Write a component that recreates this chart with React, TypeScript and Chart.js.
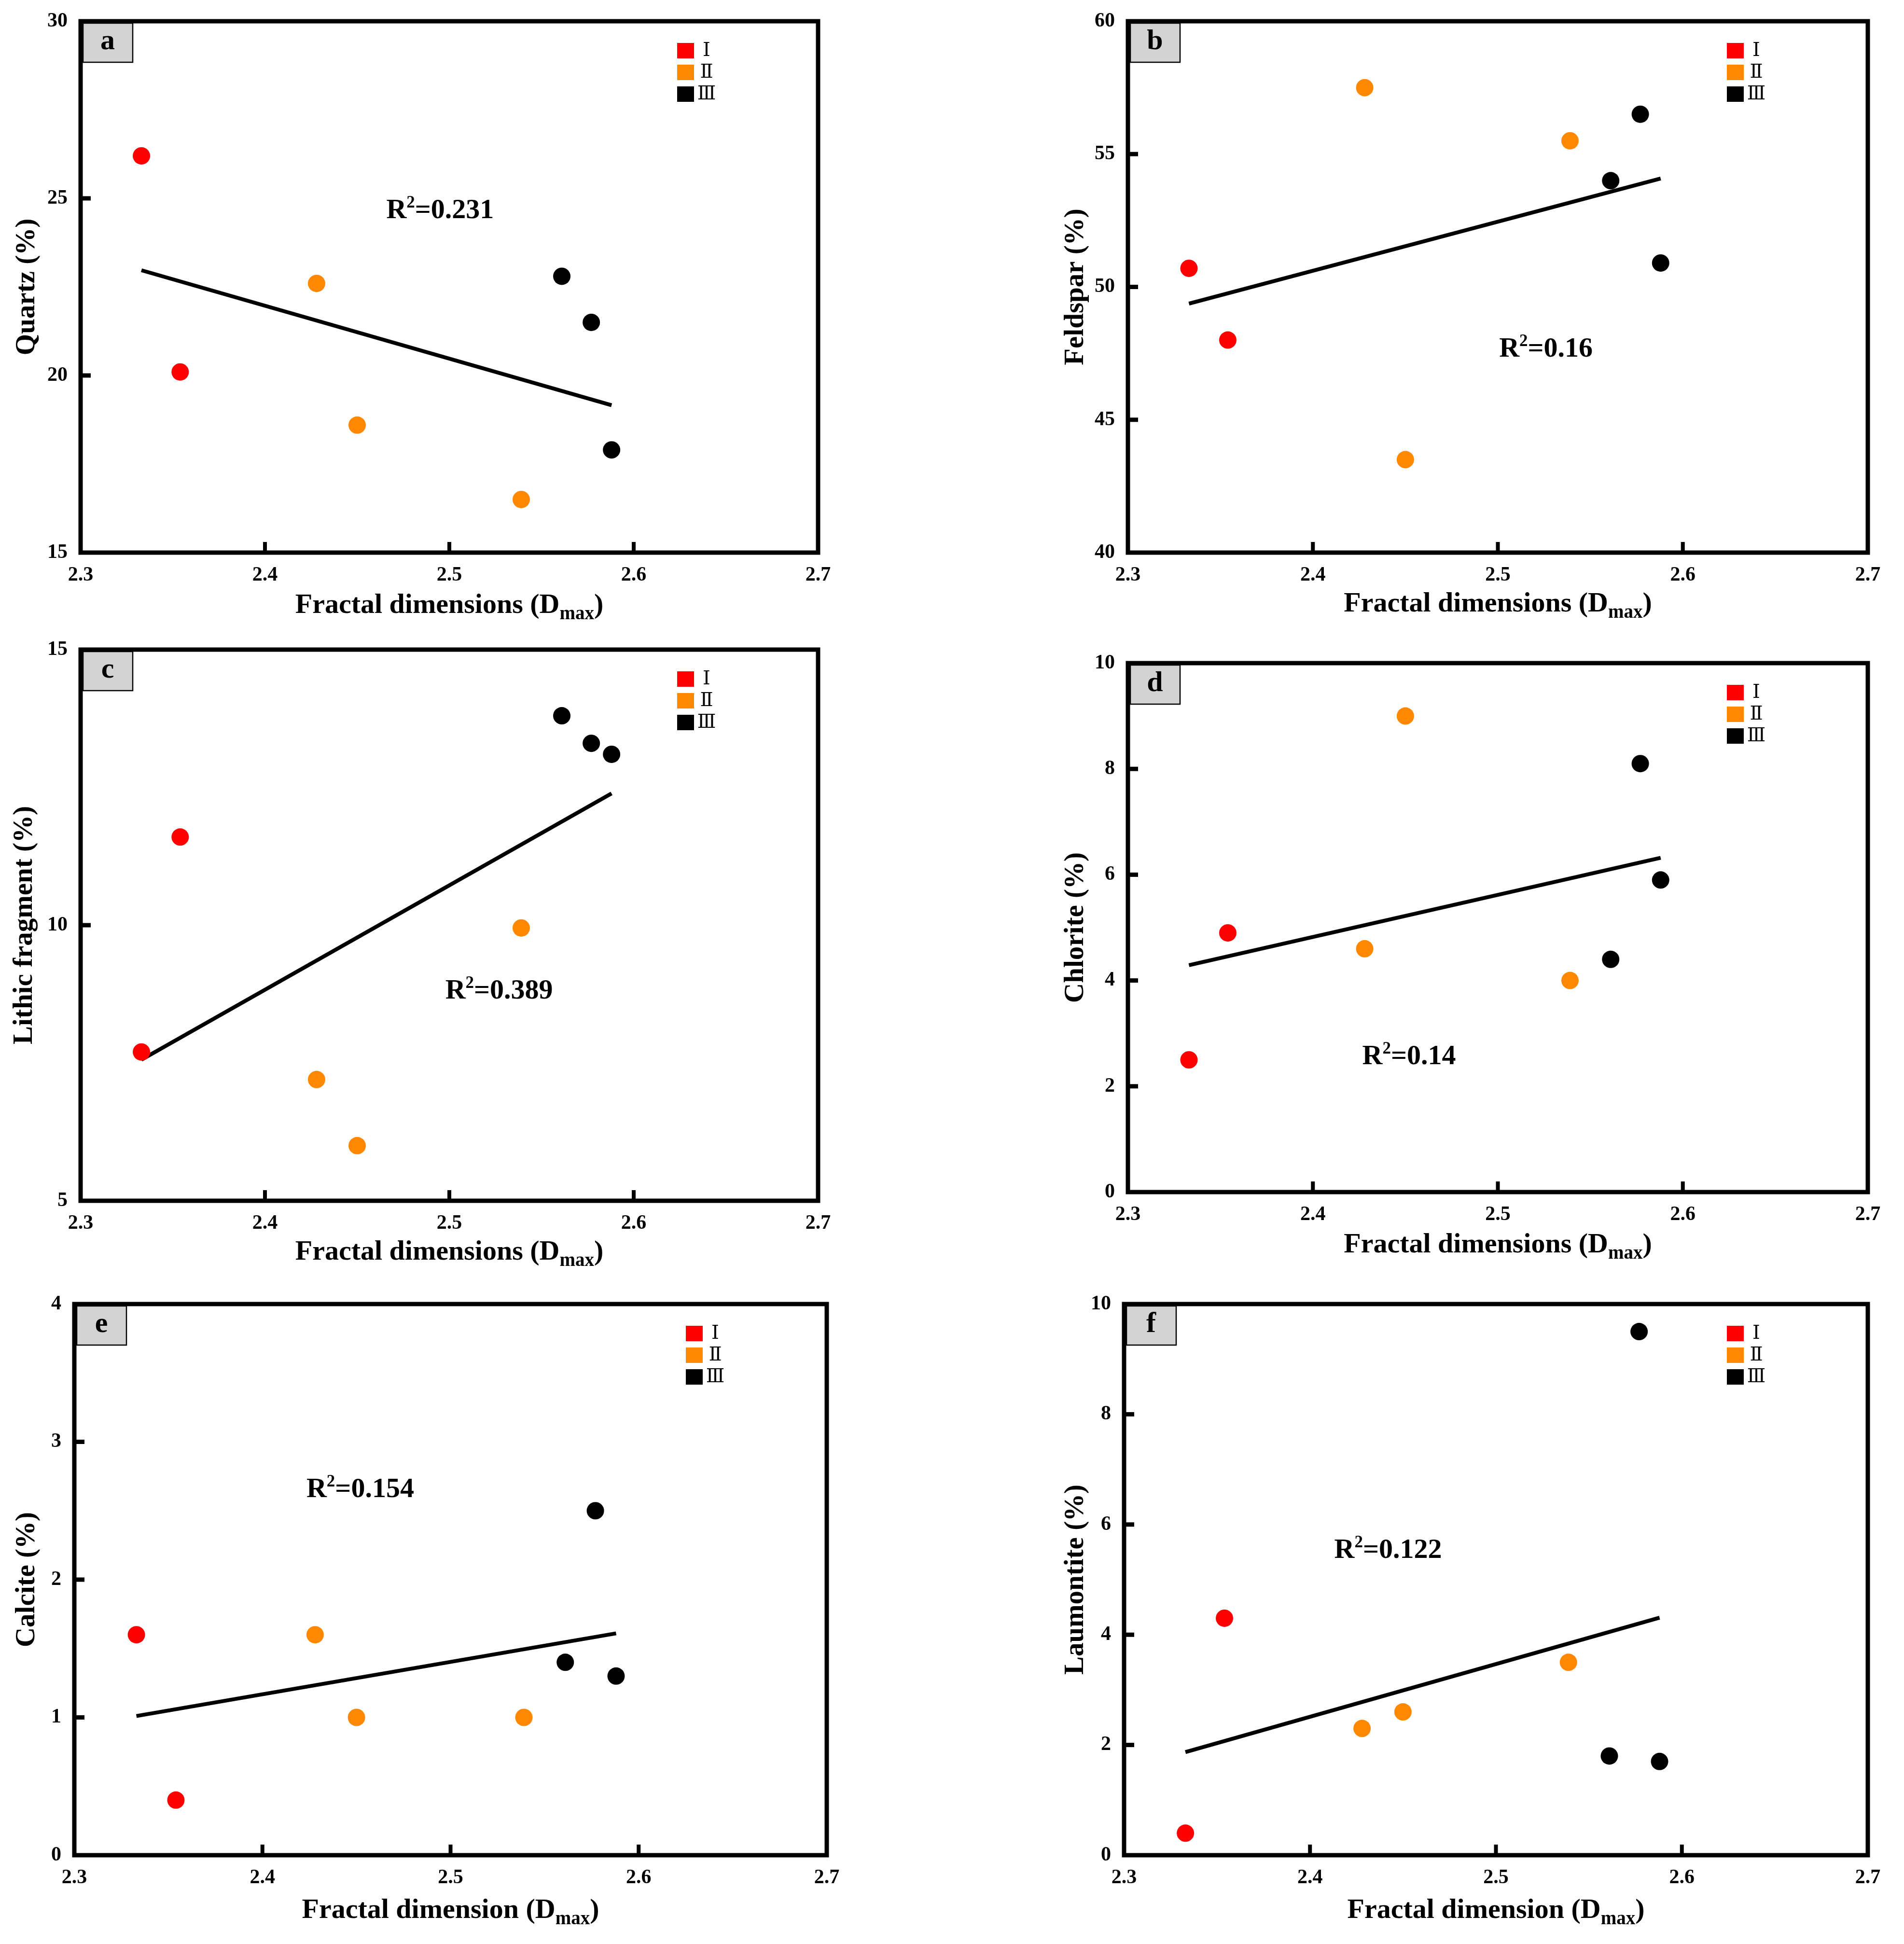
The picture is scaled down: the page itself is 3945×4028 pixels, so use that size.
import React, { useEffect, useRef } from "react";
import { Chart, registerables } from "chart.js";

Chart.register(...registerables);

// shared x values (fractal dimension Dmax) and sample groups
const dmax = [2.333, 2.354, 2.428, 2.45, 2.539, 2.561, 2.577, 2.588];
const groupOf = [0, 0, 1, 1, 1, 2, 2, 2];
const groupLabels = ["Ⅰ", "Ⅱ", "Ⅲ"];
const groupColors = ["#ff0000", "#ff8800", "#000000"];

// mineral contents (%)
const quartz = [26.2, 20.1, 22.6, 18.6, 16.5, 22.8, 21.5, 17.9];
const feldspar = [50.7, 48.0, 57.5, 43.5, 55.5, 54.0, 56.5, 50.9];
const lithic = [7.7, 11.6, 7.2, 6.0, 9.95, 13.8, 13.3, 13.1];
const chlorite = [2.5, 4.9, 4.6, 9.0, 4.0, 4.4, 8.1, 5.9];
const calcite = [1.6, 0.4, 1.6, 1.0, 1.0, 1.4, 2.5, 1.3];
const laumontite = [0.4, 4.3, 2.3, 2.6, 3.5, 1.8, 9.5, 1.7];

// fitted trend lines (end points)
const fitX = [2.333, 2.588];
const quartzFit = [22.97, 19.16];
const feldsparFit = [49.37, 54.08];
const lithicFit = [7.56, 12.39];
const chloriteFit = [4.29, 6.32];
const calciteFit = [1.01, 1.61];
const laumontiteFit = [1.87, 4.31];

const r2Values = ["0.231", "0.16", "0.389", "0.14", "0.154", "0.122"];

// axis ranges [min, max, step]
const xRange = [2.3, 2.7, 0.1];
const quartzRange = [15, 30, 5];
const feldsparRange = [40, 60, 5];
const lithicRange = [5, 15, 5];
const chloriteRange = [0, 10, 2];
const calciteRange = [0, 4, 1];
const laumontiteRange = [0, 10, 2];

const SERIF = "'Liberation Serif', 'Times New Roman', serif";

type PanelSpec = {
  id: string;
  values: number[];
  fit: number[];
  range: number[];
  r2: string;
  r2At: number[];
  yTitle: string;
  xTitle: string;
  canvas: number[]; // x, y, w, h
  box: number[]; // left, top, right, bottom
  yTitleOff: number;
  xTitleOff: number;
};

const panels: PanelSpec[] = [
  {
    id: "a", values: quartz, fit: quartzFit, range: quartzRange, r2: r2Values[0], r2At: [2.495, 24.71],
    yTitle: "Quartz (%)", xTitle: "Fractal dimensions (D",
    canvas: [0, -30, 1960, 1350], box: [167, 44, 1695, 1145], yTitleOff: -111, xTitleOff: 125,
  },
  {
    id: "b", values: feldspar, fit: feldsparFit, range: feldsparRange, r2: r2Values[1], r2At: [2.526, 47.74],
    yTitle: "Feldspar (%)", xTitle: "Fractal dimensions (D",
    canvas: [1960, -30, 1985, 1350], box: [2337, 44, 3870, 1145], yTitleOff: -108, xTitleOff: 122,
  },
  {
    id: "c", values: lithic, fit: lithicFit, range: lithicRange, r2: r2Values[2], r2At: [2.527, 8.84],
    yTitle: "Lithic fragment (%)", xTitle: "Fractal dimensions (D",
    canvas: [0, 1270, 1960, 1370], box: [167, 1346, 1695, 2488], yTitleOff: -116, xTitleOff: 122,
  },
  {
    id: "d", values: chlorite, fit: chloriteFit, range: chloriteRange, r2: r2Values[3], r2At: [2.452, 2.6],
    yTitle: "Chlorite (%)", xTitle: "Fractal dimensions (D",
    canvas: [1960, 1270, 1985, 1370], box: [2337, 1374, 3870, 2470], yTitleOff: -108, xTitleOff: 125,
  },
  {
    id: "e", values: calcite, fit: calciteFit, range: calciteRange, r2: r2Values[4], r2At: [2.452, 2.67],
    yTitle: "Calcite (%)", xTitle: "Fractal dimension (D",
    canvas: [0, 2620, 1960, 1408], box: [154, 2702, 1713, 3844], yTitleOff: -98, xTitleOff: 130,
  },
  {
    id: "f", values: laumontite, fit: laumontiteFit, range: laumontiteRange, r2: r2Values[5], r2At: [2.442, 5.57],
    yTitle: "Laumontite (%)", xTitle: "Fractal dimension (D",
    canvas: [1960, 2620, 1985, 1408], box: [2329, 2702, 3870, 3844], yTitleOff: -100, xTitleOff: 130,
  },
];

// text with a raised or lowered middle part (R², D_max)
function drawScripted(ctx: CanvasRenderingContext2D, pre: string, mid: string, post: string,
  cx: number, baseline: number, size: number, midScale: number, shift: number) {
  const big = `bold ${size}px ${SERIF}`;
  const small = `bold ${Math.round(size * midScale)}px ${SERIF}`;
  ctx.font = big;
  const w1 = ctx.measureText(pre).width;
  const w3 = ctx.measureText(post).width;
  ctx.font = small;
  const w2 = ctx.measureText(mid).width;
  const x0 = cx - (w1 + w2 + w3) / 2;
  ctx.textAlign = "left";
  ctx.textBaseline = "alphabetic";
  ctx.font = big;
  ctx.fillText(pre, x0, baseline);
  ctx.font = small;
  ctx.fillText(mid, x0 + w1, baseline + shift);
  ctx.font = big;
  ctx.fillText(post, x0 + w1 + w2, baseline);
}

const decorPlugin = {
  id: "decor",
  afterDraw(chart: any, _args: any, opts: any) {
    const { ctx, chartArea, scales } = chart;
    const { left, top, right, bottom } = chartArea;
    const x = scales.x;
    const y = scales.y;
    ctx.save();
    ctx.fillStyle = "#000";
    ctx.strokeStyle = "#000";

    // inward tick marks
    ctx.lineWidth = 9;
    for (const t of y.ticks) {
      if (t.value <= y.min || t.value >= y.max) continue;
      const py = y.getPixelForValue(t.value);
      ctx.beginPath();
      ctx.moveTo(left, py);
      ctx.lineTo(left + 21, py);
      ctx.stroke();
    }
    ctx.lineWidth = 8;
    for (const t of x.ticks) {
      if (t.value <= x.min + 1e-9 || t.value >= x.max - 1e-9) continue;
      const px = x.getPixelForValue(t.value);
      ctx.beginPath();
      ctx.moveTo(px, bottom);
      ctx.lineTo(px, bottom - 22);
      ctx.stroke();
    }

    // frame
    ctx.lineWidth = 9;
    ctx.lineJoin = "miter";
    ctx.strokeRect(left, top, right - left, bottom - top);

    // panel letter
    ctx.fillStyle = "#d3d3d3";
    ctx.fillRect(left + 5, top + 4, 103, 81);
    ctx.lineWidth = 2.5;
    ctx.strokeRect(left + 5, top + 4, 103, 81);
    ctx.fillStyle = "#000";
    ctx.font = `bold 60px ${SERIF}`;
    ctx.textAlign = "center";
    ctx.textBaseline = "alphabetic";
    ctx.fillText(opts.letter, left + 56, top + 58);

    // legend
    const items = chart.data.datasets.filter((d: any) => !d.showLine);
    items.forEach((d: any, i: number) => {
      const sx = right - 292;
      const sy = top + 45 + i * 45;
      ctx.fillStyle = d.backgroundColor;
      ctx.fillRect(sx, sy, 35, 32);
      ctx.fillStyle = "#000";
      ctx.font = `40px 'DejaVu Serif', 'Noto Sans CJK SC', serif`;
      ctx.textAlign = "center";
      ctx.textBaseline = "middle";
      ctx.fillText(d.label, sx + 61, sy + 17);
    });

    // R² note
    const rx = x.getPixelForValue(opts.r2At[0]);
    const ry = y.getPixelForValue(opts.r2At[1]);
    ctx.fillStyle = "#000";
    drawScripted(ctx, "R", "2", "=" + opts.r2, rx, ry + 20, 58, 0.6, -22);

    // x title with subscript
    drawScripted(ctx, opts.xTitle, "max", ")", (left + right) / 2, bottom + opts.xTitleOff, 58, 0.68, 13);

    // y title
    ctx.save();
    ctx.translate(left + opts.yTitleOff, (top + bottom) / 2);
    ctx.rotate(-Math.PI / 2);
    ctx.font = `bold 57px ${SERIF}`;
    ctx.textAlign = "center";
    ctx.textBaseline = "middle";
    ctx.fillText(opts.yTitle, 0, 0);
    ctx.restore();

    ctx.restore();
  },
};

function Panel({ p }: { p: PanelSpec }) {
  const canvasRef = useRef<HTMLCanvasElement | null>(null);

  useEffect(() => {
    const ctx = canvasRef.current?.getContext("2d");
    if (!ctx) return;
    const [cx, cy, cw, ch] = p.canvas;
    const [l, t, r, b] = p.box;

    const datasets: any[] = groupLabels.map((g, gi) => ({
      label: g,
      data: dmax
        .map((xv, i) => ({ x: xv, y: p.values[i] }))
        .filter((_, i) => groupOf[i] === gi),
      backgroundColor: groupColors[gi],
      borderWidth: 0,
      pointRadius: 18,
      pointHoverRadius: 18,
      order: 1,
    }));
    datasets.push({
      label: "fit",
      data: fitX.map((xv, i) => ({ x: xv, y: p.fit[i] })),
      showLine: true,
      borderColor: "#000",
      borderWidth: 8,
      pointRadius: 0,
      fill: false,
      order: 2,
    });

    const tickFont = { family: SERIF, size: 42, weight: "bold" as const };

    const chart = new Chart(ctx, {
      type: "scatter",
      data: { datasets },
      options: {
        animation: false,
        responsive: true,
        maintainAspectRatio: false,
        devicePixelRatio: 1,
        events: [],
        layout: { padding: { top: t - cy, right: cx + cw - r, left: 0, bottom: 0 } },
        plugins: {
          legend: { display: false },
          tooltip: { enabled: false },
          decor: {
            letter: p.id,
            r2: p.r2,
            r2At: p.r2At,
            xTitle: p.xTitle,
            yTitle: p.yTitle,
            xTitleOff: p.xTitleOff,
            yTitleOff: p.yTitleOff,
          },
        } as any,
        scales: {
          x: {
            type: "linear",
            min: xRange[0],
            max: xRange[1],
            grid: { display: false, drawTicks: false },
            border: { display: false },
            ticks: {
              stepSize: xRange[2],
              padding: 22,
              color: "#000",
              font: tickFont,
              maxRotation: 0,
              autoSkip: false,
              callback: (v: any) => Number(v).toFixed(1),
            },
            afterFit: (s: any) => { s.height = cy + ch - b; },
          },
          y: {
            type: "linear",
            min: p.range[0],
            max: p.range[1],
            grid: { display: false, drawTicks: false },
            border: { display: false },
            ticks: {
              stepSize: p.range[2],
              padding: 27,
              color: "#000",
              font: tickFont,
              autoSkip: false,
            },
            afterFit: (s: any) => { s.width = l - cx; },
          },
        },
      },
      plugins: [decorPlugin],
    });

    return () => {
      chart.destroy();
    };
  }, [p]);

  const [cx, cy, cw, ch] = p.canvas;
  return (
    <div style={{ position: "absolute", left: cx, top: cy, width: cw, height: ch }}>
      <canvas ref={canvasRef} />
    </div>
  );
}

export default function App() {
  return (
    <div style={{ position: "absolute", left: 0, top: 0, width: 3945, height: 4028, background: "#fff", overflow: "hidden" }}>
      {panels.map((p) => (
        <Panel key={p.id} p={p} />
      ))}
    </div>
  );
}
